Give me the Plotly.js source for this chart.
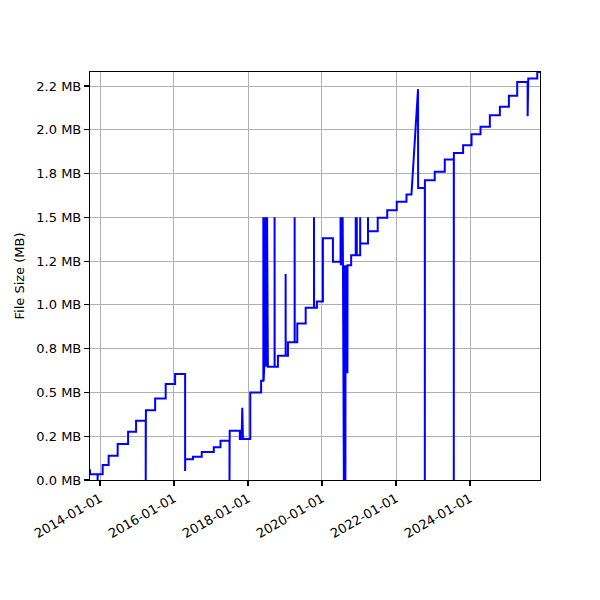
<!DOCTYPE html>
<html>
<head>
<meta charset="utf-8">
<script src="https://cdn.plot.ly/plotly-3.0.1.min.js"></script>
<style>
  html, body { margin: 0; padding: 0; background: #fff; }
  #myDiv { width: 600px; height: 600px; }
</style>
</head>
<body>
<div id="myDiv"></div>
<script>
// one entry per recorded commit: date and file size in MB
var commitDates = [
  '2013-09-24','2013-09-25','2013-12-08','2013-12-08','2013-12-09',
  '2014-01-27','2014-01-27','2014-03-27','2014-03-27','2014-06-24','2014-06-24',
  '2014-10-05','2014-10-05','2014-12-23','2014-12-23',
  '2015-03-28','2015-03-28','2015-03-30','2015-06-29','2015-06-29',
  '2015-10-11','2015-10-11','2016-01-12','2016-01-12',
  '2016-04-20','2016-04-20','2016-04-21','2016-07-06','2016-07-06',
  '2016-10-01','2016-10-01','2017-01-28','2017-01-28','2017-04-04','2017-04-04',
  '2017-07-02','2017-07-02','2017-07-04','2017-10-12','2017-10-12',
  '2017-10-30','2017-11-05','2017-11-12','2018-01-23','2018-01-23',
  '2018-05-10','2018-05-10','2018-06-01','2018-06-01','2018-06-04',
  '2018-06-08','2018-06-10','2018-06-14','2018-06-16','2018-06-20','2018-06-22',
  '2018-06-26','2018-06-28','2018-07-02','2018-07-04','2018-07-08','2018-07-10',
  '2018-07-14','2018-07-16','2018-09-20','2018-09-20','2018-09-21',
  '2018-10-23','2018-10-23','2019-01-07','2019-01-07','2019-01-08',
  '2019-01-30','2019-01-30','2019-04-06','2019-04-06','2019-04-07',
  '2019-05-02','2019-05-02','2019-07-24','2019-07-24',
  '2019-10-14','2019-10-14','2019-10-15','2019-11-12','2019-11-12',
  '2020-01-10','2020-01-10','2020-04-18','2020-04-18',
  '2020-07-02','2020-07-02','2020-07-05','2020-07-09','2020-07-12',
  '2020-07-16','2020-07-19','2020-07-23','2020-07-26',
  '2020-08-04','2020-08-06','2020-08-09','2020-08-11','2020-08-14','2020-08-16',
  '2020-08-19','2020-08-21','2020-09-08','2020-09-09',
  '2020-10-15','2020-10-15','2020-11-29','2020-11-29','2020-11-30',
  '2020-12-09','2020-12-10','2021-01-12','2021-01-12','2021-01-13',
  '2021-03-30','2021-03-30','2021-03-31','2021-07-04','2021-07-04',
  '2021-10-06','2021-10-06','2022-01-08','2022-01-08','2022-04-14','2022-04-14',
  '2022-06-02','2022-08-06','2022-08-07','2022-10-12','2022-10-12','2022-10-13',
  '2023-01-18','2023-01-18','2023-04-27','2023-04-27',
  '2023-07-25','2023-07-25','2023-07-26','2023-10-25','2023-10-25',
  '2024-01-16','2024-01-16','2024-04-14','2024-04-14','2024-07-15','2024-07-15',
  '2024-10-22','2024-10-22','2025-01-19','2025-01-19','2025-04-11','2025-04-11',
  '2025-07-20','2025-07-23','2025-07-23','2025-07-24','2025-07-29','2025-07-29',
  '2025-10-26','2025-10-26','2025-11-22'
];
var sizeMB = [
  0.061,0.033,0.033,0,0.033,
  0.033,0.086,0.086,0.139,0.139,0.205,
  0.205,0.276,0.276,0.339,
  0.339,0,0.398,0.398,0.466,
  0.466,0.548,0.548,0.605,
  0.605,0.051,0.118,0.118,0.133,
  0.133,0.160,0.160,0.187,0.187,0.224,
  0.224,0,0.281,0.281,0.234,
  0.234,0.413,0.234,0.234,0.500,
  0.500,0.567,0.567,1.500,0.567,
  1.500,0.647,1.500,0.647,1.500,0.647,
  1.500,0.647,1.500,0.647,1.500,0.647,
  1.500,0.647,0.647,1.500,0.647,
  0.647,0.710,0.710,1.176,0.710,
  0.710,0.786,0.786,1.500,0.786,
  0.786,0.894,0.894,0.983,
  0.983,1.500,0.983,0.983,1.020,
  1.020,1.380,1.380,1.246,
  1.246,1.500,1.227,1.500,1.227,
  1.500,1.227,1.500,1.227,
  0,1.227,0,1.227,0,1.227,
  0,1.227,0.610,1.227,
  1.227,1.284,1.284,1.500,1.284,
  1.500,1.284,1.284,1.500,1.351,
  1.351,1.500,1.420,1.420,1.497,
  1.497,1.540,1.540,1.589,1.589,1.630,
  1.630,2.232,1.668,1.668,0,1.712,
  1.712,1.760,1.760,1.830,
  1.830,0,1.868,1.868,1.912,
  1.912,1.975,1.975,2.017,2.017,2.083,
  2.083,2.131,2.131,2.194,2.194,2.273,
  2.273,2.264,2.078,2.264,2.264,2.293,
  2.293,2.330,2.330
];

var yTicks = [0, 0.25, 0.5, 0.75, 1.0, 1.25, 1.5, 1.75, 2.0, 2.25];
var yTickText = ['0.0 MB','0.2 MB','0.5 MB','0.8 MB','1.0 MB','1.2 MB','1.5 MB','1.8 MB','2.0 MB','2.2 MB'];
var xTicks = ['2014-01-01','2016-01-01','2018-01-01','2020-01-01','2022-01-01','2024-01-01'];

var data = [{
  x: commitDates,
  y: sizeMB,
  type: 'scatter',
  mode: 'lines',
  line: {color: '#0000ff', width: 2},
  hoverinfo: 'x+y'
}];

var axisStyle = {
  showgrid: true,
  gridcolor: '#b0b0b0',
  gridwidth: 1,
  showline: true,
  mirror: true,
  linecolor: '#000',
  linewidth: 1.1,
  ticks: 'outside',
  ticklen: 5,
  tickwidth: 1.1,
  tickcolor: '#000',
  zeroline: false
};

var layout = {
  width: 600,
  height: 600,
  margin: {l: 90, r: 60, t: 72, b: 120},
  paper_bgcolor: '#fff',
  plot_bgcolor: '#fff',
  showlegend: false,
  font: {family: 'DejaVu Sans, sans-serif', size: 13, color: '#000'},
  xaxis: Object.assign({}, axisStyle, {
    type: 'date',
    range: ['2013-09-24', '2025-11-22'],
    tickvals: xTicks,
    ticktext: xTicks,
    tickangle: -30
  }),
  yaxis: Object.assign({}, axisStyle, {
    range: [0, 2.33],
    tickvals: yTicks,
    ticktext: yTickText,
    title: {text: 'File Size (MB)', font: {size: 13}, standoff: 8}
  })
};

Plotly.newPlot('myDiv', data, layout, {staticPlot: true});
</script>
</body>
</html>
